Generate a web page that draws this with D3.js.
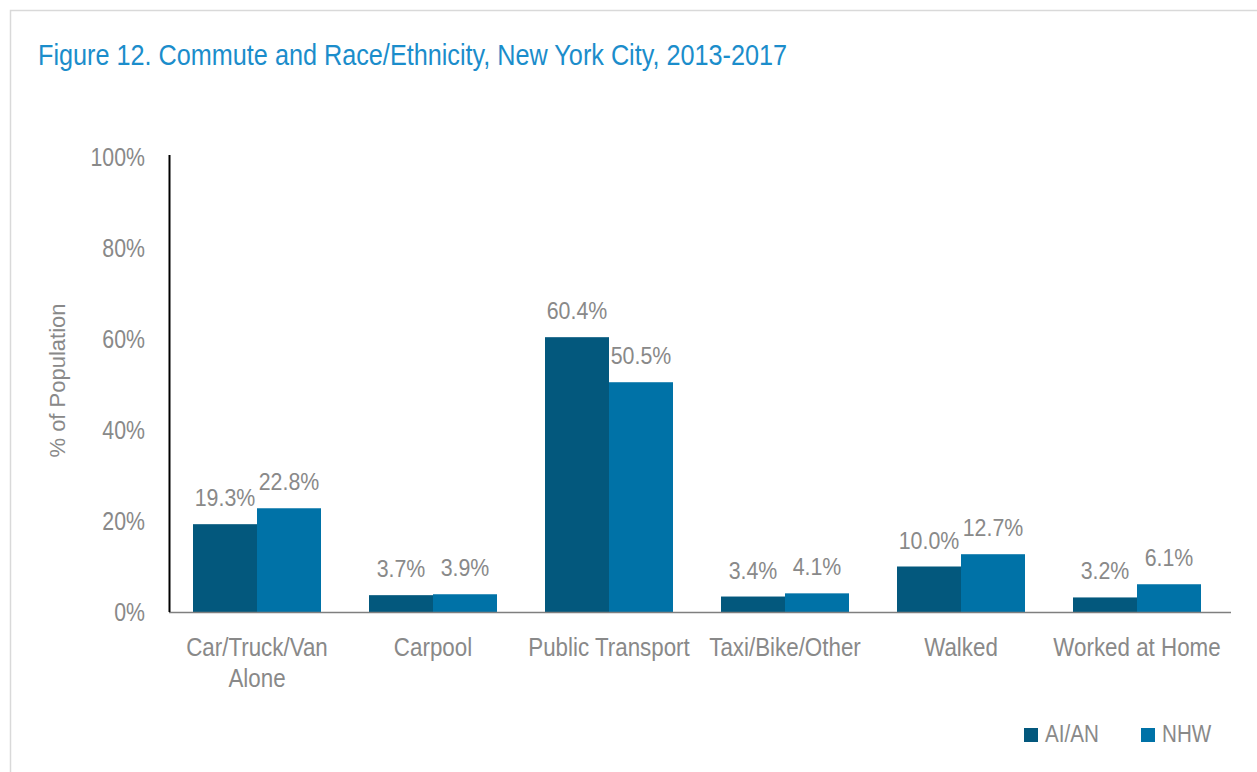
<!DOCTYPE html>
<html>
<head>
<meta charset="utf-8">
<script src="https://cdn.jsdelivr.net/npm/d3@7"></script>
<style>
  html, body { margin: 0; padding: 0; background: #fff; }
  svg { display: block; }
  text { font-family: "Liberation Sans", Arial, sans-serif; }
</style>
</head>
<body>
<svg id="chart" width="1257" height="772"></svg>
<script>
// Commute mode shares, New York City, 2013-2017
const categories = [["Car/Truck/Van", "Alone"], ["Carpool"], ["Public Transport"], ["Taxi/Bike/Other"], ["Walked"], ["Worked at Home"]];
const seriesNames = ["AI/AN", "NHW"];
const aian = [19.3, 3.7, 60.4, 3.4, 10.0, 3.2];
const nhw = [22.8, 3.9, 50.5, 4.1, 12.7, 6.1];
const yTicks = [0, 20, 40, 60, 80, 100];

const colors = ["#03587D", "#0072A7"];
const grey = "#898989";

const svg = d3.select("#chart");

// condensed text: place at (x, y) and squeeze horizontally around the anchor
function narrowText(parent, x, y, str, size, squeeze, anchor) {
  return parent.append("text")
    .attr("transform", `translate(${x},${y}) scale(${squeeze},1)`)
    .attr("text-anchor", anchor || "start")
    .attr("font-size", size)
    .text(str);
}

// outer frame
svg.append("rect")
  .attr("x", 10.5).attr("y", 10.5)
  .attr("width", 1300).attr("height", 800)
  .attr("fill", "none").attr("stroke", "#d9d9d9").attr("stroke-width", 1.5);

narrowText(svg, 38, 65, "Figure 12. Commute and Race/Ethnicity, New York City, 2013-2017", 29, 0.87)
  .attr("fill", "#1B8DCB");

const plotLeft = 169, plotRight = 1225, plotTop = 157, plotBottom = 612;

const x = d3.scaleBand().domain(d3.range(categories.length)).range([plotLeft, plotRight]).paddingInner(0).paddingOuter(0);
const inner = d3.scaleBand().domain(seriesNames).range([24, x.bandwidth() - 24]);
const y = d3.scaleLinear().domain([0, 100]).range([plotBottom, plotTop]);

// y axis tick labels
const tickSqueeze = 0.82;
const yAxis = d3.axisLeft(y).tickValues(yTicks).tickFormat(d => d + "%").tickSize(0).tickPadding(24);
const yg = svg.append("g").attr("transform", `translate(${plotLeft},0)`).call(yAxis);
yg.select(".domain").remove();
yg.selectAll("text")
  .attr("font-size", 26).attr("fill", grey)
  .attr("font-family", "'Liberation Sans', Arial, sans-serif")
  .attr("transform", `scale(${tickSqueeze},1)`)
  .attr("x", -24 / tickSqueeze)
  .attr("dy", "0.34em");

// y axis title
svg.append("text")
  .attr("transform", `translate(65,${(plotTop + plotBottom) / 2 - 4}) rotate(-90)`)
  .attr("text-anchor", "middle")
  .attr("font-size", 22).attr("fill", grey)
  .text("% of Population");

const data = categories.map((c, i) => ({ i, values: [aian[i], nhw[i]] }));

// bars
const groups = svg.append("g").selectAll("g").data(data).join("g")
  .attr("transform", d => `translate(${x(d.i)},0)`);

groups.selectAll("rect").data(d => d.values.map((v, k) => ({ v, k }))).join("rect")
  .attr("x", d => inner(seriesNames[d.k]))
  .attr("width", inner.bandwidth())
  .attr("y", d => y(d.v))
  .attr("height", d => y(0) - y(d.v))
  .attr("fill", d => colors[d.k]);

// value labels
groups.each(function (d) {
  const g = d3.select(this);
  d.values.forEach((v, k) => {
    narrowText(g, inner(seriesNames[k]) + inner.bandwidth() / 2, y(v) - 18, v.toFixed(1) + "%", 24, 0.89, "middle")
      .attr("fill", grey);
  });
});

// axes lines
svg.append("line").attr("x1", plotLeft).attr("x2", plotRight + 6).attr("y1", plotBottom + 0.5).attr("y2", plotBottom + 0.5)
  .attr("stroke", "#7f7f7f").attr("stroke-width", 1.5);
svg.append("line").attr("x1", plotLeft + 0.5).attr("x2", plotLeft + 0.5).attr("y1", 155).attr("y2", plotBottom)
  .attr("stroke", "#000").attr("stroke-width", 2);

// category labels
const xg = svg.append("g");
data.forEach(d => {
  categories[d.i].forEach((line, j) => {
    narrowText(xg, x(d.i) + x.bandwidth() / 2, 656 + j * 31, line, 26, 0.86, "middle")
      .attr("fill", grey);
  });
});

// legend
const legend = svg.append("g").attr("transform", "translate(1024,728)");
const legendX = [0, 117];
seriesNames.forEach((s, k) => {
  legend.append("rect").attr("x", legendX[k]).attr("y", 0).attr("width", 14).attr("height", 14).attr("fill", colors[k]);
  narrowText(legend, legendX[k] + 21, 14, s, 24, 0.86).attr("fill", grey);
});
</script>
</body>
</html>
